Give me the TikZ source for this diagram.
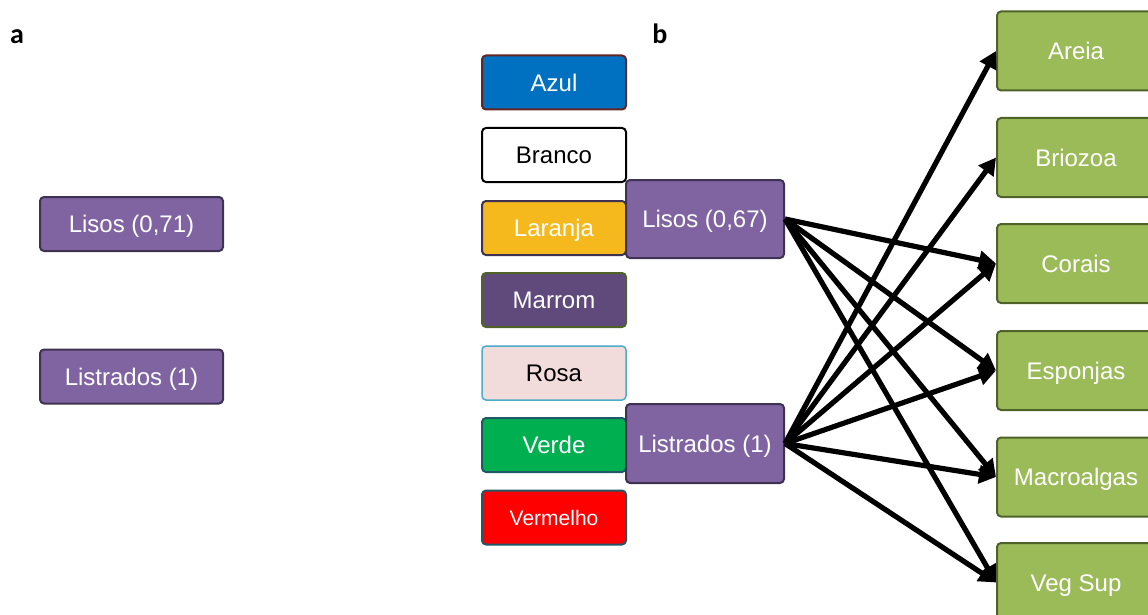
\documentclass[tikz,border=0pt]{standalone}
\usepackage{fontspec}
\setmainfont{Liberation Sans}
\newfontfamily\lblfont{Carlito}
\usetikzlibrary{arrows.meta}
\definecolor{purfill}{HTML}{8064A2}
\definecolor{purdraw}{HTML}{3F3151}
\definecolor{grnfill}{HTML}{9BBB59}
\definecolor{grndraw}{HTML}{4F6228}
\definecolor{azulf}{HTML}{0070C0}
\definecolor{azuld}{HTML}{632523}
\definecolor{laranjaf}{HTML}{F5B91E}
\definecolor{marromf}{HTML}{604A7B}
\definecolor{rosaf}{HTML}{F2DCDB}
\definecolor{rosad}{HTML}{4BACC6}
\definecolor{verdef}{HTML}{00B050}
\definecolor{tealdraw}{HTML}{215868}
\tikzset{
  box/.style={rectangle, rounded corners=4pt, line width=2pt, inner sep=0pt,
    font=\fontsize{24}{28}\selectfont, text height=17.2pt, text depth=0pt},
  purbox/.style={box, fill=purfill, draw=purdraw, text=white},
  colbox/.style={box, minimum width=144pt, minimum height=54pt},
  grnbox/.style={box, fill=grnfill, draw=grndraw, text=white, minimum width=158pt, minimum height=79pt},
  conn/.style={line width=5.2pt, -{Triangle[length=17pt,width=18pt]}},
  lbl/.style={font=\lblfont\bfseries\fontsize{28}{32}\selectfont, anchor=base}
}
\begin{document}
\begin{tikzpicture}[x=1pt,y=-1pt]
\useasboundingbox (0,0) rectangle (1148,615);
% labels
\node[lbl] (la) at (17,44) {a};
\node[lbl] (lb) at (660,44) {b};
% panel a
\node[purbox, minimum width=183pt, minimum height=54pt] (aL) at (131.5,224) {Lisos (0,71)};
\node[purbox, minimum width=183pt, minimum height=54pt] (aS) at (131.5,376.5) {Listrados (1)};
% colour boxes
\node[colbox, fill=azulf, draw=azuld, text=white] (azul) at (554,82.5) {Azul};
\node[colbox, fill=white, draw=black, text=black] (branco) at (554,155) {Branco};
\node[colbox, fill=laranjaf, draw=purdraw, text=white] (laranja) at (554,228) {Laranja};
\node[colbox, fill=marromf, draw=grndraw, text=white] (marrom) at (554,300) {Marrom};
\node[colbox, fill=rosaf, draw=rosad, text=black, line width=1.5pt] (rosa) at (554,373) {Rosa};
\node[colbox, fill=verdef, draw=tealdraw, text=white] (verde) at (554,445) {Verde};
\node[colbox, fill=red, draw=tealdraw, text=white, font=\fontsize{21}{25}\selectfont, text height=15pt] (vermelho) at (554,517.5) {Vermelho};
% panel b middle
\node[purbox, minimum width=158pt, minimum height=78pt] (bL) at (705,219) {Lisos (0,67)};
\node[purbox, minimum width=158pt, minimum height=79pt] (bS) at (705,443.5) {Listrados (1)};
% green boxes
\node[grnbox] (areia) at (1076,51) {Areia};
\node[grnbox] (briozoa) at (1076,157.5) {Briozoa};
\node[grnbox] (corais) at (1076,263.5) {Corais};
\node[grnbox] (esponjas) at (1076,370.5) {Esponjas};
\node[grnbox] (macro) at (1076,477) {Macroalgas};
\node[grnbox] (veg) at (1076,582.5) {Veg Sup};
% connectors
\foreach \t in {corais,esponjas,macro,veg}
  \draw[conn] (bL.east) -- (\t.west);
\foreach \t in {areia,briozoa,corais,esponjas,macro,veg}
  \draw[conn] (bS.east) -- (\t.west);
\end{tikzpicture}
\end{document}
